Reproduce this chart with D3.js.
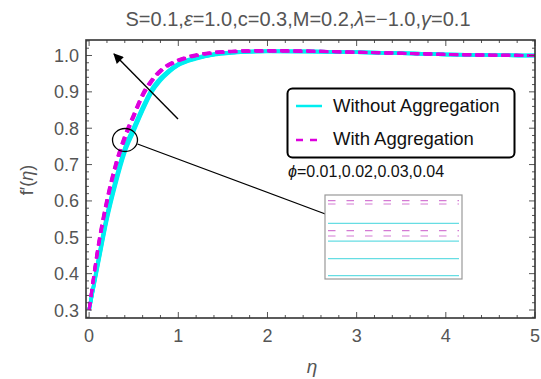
<!DOCTYPE html>
<html>
<head>
<meta charset="utf-8">
<script src="https://cdn.jsdelivr.net/npm/d3@7"></script>
<style>
  body { margin: 0; background: #fff; }
  svg { display: block; font-family: "Liberation Sans", Arial, sans-serif; }
</style>
</head>
<body>
<svg class="chart" width="541" height="379"></svg>
<script>
// eta grid shared by all curves
const eta = [0, 0.1, 0.2, 0.3, 0.4, 0.5, 0.6, 0.7, 0.8, 0.9, 1.0, 1.2, 1.4, 1.6, 1.8, 2.0, 2.5, 3.0, 3.5, 4.0, 4.5, 5.0];

// f'(eta) without aggregation, phi = 0.01 .. 0.04
const noAgg1 = [0.300,0.436,0.562,0.662,0.746,0.803,0.858,0.907,0.938,0.960,0.977,0.994,1.004,1.009,1.011,1.012,1.011,1.009,1.006,1.003,1.001,1.000];
const noAgg2 = [0.300,0.432,0.557,0.657,0.742,0.799,0.855,0.904,0.936,0.959,0.976,0.993,1.003,1.008,1.011,1.012,1.011,1.009,1.006,1.003,1.001,1.000];
const noAgg3 = [0.300,0.428,0.553,0.653,0.738,0.795,0.851,0.901,0.934,0.957,0.974,0.992,1.003,1.008,1.010,1.012,1.011,1.009,1.006,1.003,1.001,1.000];
const noAgg4 = [0.300,0.424,0.548,0.648,0.733,0.791,0.848,0.898,0.931,0.955,0.973,0.991,1.002,1.007,1.010,1.011,1.011,1.009,1.006,1.003,1.001,1.000];

// f'(eta) with aggregation, phi = 0.01 .. 0.04
const agg1 = [0.300,0.476,0.606,0.705,0.780,0.839,0.895,0.933,0.960,0.977,0.988,1.002,1.009,1.012,1.013,1.013,1.012,1.009,1.006,1.003,1.001,1.000];
const agg2 = [0.300,0.473,0.602,0.702,0.777,0.836,0.893,0.931,0.959,0.976,0.987,1.001,1.008,1.011,1.013,1.013,1.012,1.009,1.006,1.003,1.001,1.000];
const agg3 = [0.300,0.469,0.598,0.698,0.773,0.833,0.890,0.929,0.957,0.975,0.986,1.000,1.008,1.011,1.012,1.013,1.012,1.009,1.006,1.003,1.001,1.000];
const agg4 = [0.300,0.466,0.594,0.694,0.769,0.830,0.887,0.927,0.955,0.973,0.985,0.999,1.007,1.010,1.012,1.012,1.011,1.009,1.006,1.003,1.001,1.000];

// inset (magnified view) levels, relative units 0..1
const insetNoAgg = [0.663, 0.452, 0.242, 0.039];
const insetAgg = [0.932, 0.893, 0.575, 0.512];

const xTicks = [0, 1, 2, 3, 4, 5];
const yTicks = [0.3, 0.4, 0.5, 0.6, 0.7, 0.8, 0.9, 1.0];
const legendLabels = ["Without Aggregation", "With Aggregation"];
// title pieces: [text, italic?]
const titleParts = [["S=0.1,", false], ["\u03B5", true], ["=1.0,c=0.3,M=0.2,", false], ["\u03BB", true], ["=\u22121.0,", false], ["\u03B3", true], ["=0.1", false]];
const phiText = "=0.01,0.02,0.03,0.04";

const svg = d3.select("svg.chart");
const frame = {left: 86, right: 535, top: 40, bottom: 318};

let x = d3.scaleLinear().domain([-0.035, 5]).range([frame.left, frame.right]);
let y = d3.scaleLinear().domain([0.278, 1.0426]).range([frame.bottom, frame.top]);

const cyan = "#00eef0", magenta = "#dd00dd", grey = "#555";

// title
let tt = svg.append("text")
    .attr("x", 298).attr("y", 26)
    .attr("text-anchor", "middle")
    .style("font-size", "20px").style("fill", grey);
titleParts.forEach(function(p) {
    tt.append("tspan").style("font-style", p[1] ? "italic" : "normal").text(p[0]);
});

// clip to frame
svg.append("clipPath").attr("id", "clip")
    .append("rect")
    .attr("x", frame.left).attr("y", frame.top)
    .attr("width", frame.right - frame.left).attr("height", frame.bottom - frame.top);

let line = d3.line()
    .x(function(d, i) { return x(eta[i]); })
    .y(function(d) { return y(d); })
    .curve(d3.curveMonotoneX);

let plot = svg.append("g").attr("clip-path", "url(#clip)");

[noAgg1, noAgg2, noAgg3, noAgg4].forEach(function(s) {
    plot.append("path").datum(s)
        .attr("d", line)
        .attr("fill", "none")
        .attr("stroke", cyan)
        .attr("stroke-width", 3.5);
});
[agg1, agg2, agg3, agg4].forEach(function(s) {
    plot.append("path").datum(s)
        .attr("d", line)
        .attr("fill", "none")
        .attr("stroke", magenta)
        .attr("stroke-width", 3)
        .attr("stroke-dasharray", "8,5");
});

// frame ticks (inward, mirrored on top/right)
let g = svg.append("g");
let xMinor = d3.range(0, 5.001, 0.2);
let yMinor = d3.range(0.28, 1.041, 0.02);
xMinor.forEach(function(v) {
    let major = Math.abs(v - Math.round(v)) < 1e-6;
    let len = major ? 6 : 3;
    g.append("line").attr("x1", x(v)).attr("x2", x(v))
        .attr("y1", frame.bottom).attr("y2", frame.bottom - len)
        .attr("stroke", grey).attr("stroke-width", 1);
    g.append("line").attr("x1", x(v)).attr("x2", x(v))
        .attr("y1", frame.top).attr("y2", frame.top + len)
        .attr("stroke", grey).attr("stroke-width", 1);
});
yMinor.forEach(function(v) {
    let major = Math.abs(v * 10 - Math.round(v * 10)) < 1e-6;
    let len = major ? 6 : 3;
    g.append("line").attr("y1", y(v)).attr("y2", y(v))
        .attr("x1", frame.left).attr("x2", frame.left + len)
        .attr("stroke", grey).attr("stroke-width", 1);
    g.append("line").attr("y1", y(v)).attr("y2", y(v))
        .attr("x1", frame.right).attr("x2", frame.right - len)
        .attr("stroke", grey).attr("stroke-width", 1);
});

g.append("rect")
    .attr("x", frame.left).attr("y", frame.top)
    .attr("width", frame.right - frame.left).attr("height", frame.bottom - frame.top)
    .attr("fill", "none").attr("stroke", "#333").attr("stroke-width", 1.6);

// tick labels
svg.selectAll(".xlab").data(xTicks).enter().append("text")
    .attr("class", "xlab")
    .attr("x", function(d) { return x(d); })
    .attr("y", 342)
    .attr("text-anchor", "middle")
    .style("font-size", "18px").style("fill", grey)
    .text(function(d) { return d; });

svg.selectAll(".ylab").data(yTicks).enter().append("text")
    .attr("class", "ylab")
    .attr("x", 79)
    .attr("y", function(d) { return y(d) + 6.5; })
    .attr("text-anchor", "end")
    .style("font-size", "18px").style("fill", grey)
    .text(function(d) { return d.toFixed(1); });

// axis titles
svg.append("text")
    .attr("x", 312).attr("y", 373)
    .attr("text-anchor", "middle")
    .style("font-size", "19px").style("font-style", "italic").style("fill", grey)
    .text("\u03B7");

let yl = svg.append("text")
    .attr("transform", "translate(33,180) rotate(-90)")
    .attr("text-anchor", "middle")
    .style("font-size", "18px").style("fill", grey);
yl.append("tspan").text("f\u2032(");
yl.append("tspan").style("font-style", "italic").text("\u03B7");
yl.append("tspan").text(")");

// arrow
svg.append("defs").append("marker")
    .attr("id", "head").attr("viewBox", "0 0 10 10")
    .attr("refX", 9).attr("refY", 5)
    .attr("markerWidth", 12).attr("markerHeight", 10)
    .attr("markerUnits", "userSpaceOnUse")
    .attr("orient", "auto")
    .append("path").attr("d", "M0,0L10,5L0,10z").attr("fill", "#000");

svg.append("line")
    .attr("x1", 178).attr("y1", 119).attr("x2", 114).attr("y2", 54)
    .attr("stroke", "#000").attr("stroke-width", 1.4)
    .attr("marker-end", "url(#head)");

// circle + pointer line to inset
svg.append("ellipse")
    .attr("cx", 125).attr("cy", 140).attr("rx", 12.5).attr("ry", 11.5)
    .attr("fill", "none").attr("stroke", "#000").attr("stroke-width", 1.3);
svg.append("line")
    .attr("x1", 137.5).attr("y1", 144).attr("x2", 328).attr("y2", 215)
    .attr("stroke", "#000").attr("stroke-width", 1.3);

// legend
let lg = svg.append("g");
lg.append("rect")
    .attr("x", 287.5).attr("y", 88.5).attr("width", 227).attr("height", 69)
    .attr("rx", 5).attr("fill", "#fff").attr("stroke", "#000").attr("stroke-width", 2);
lg.append("line")
    .attr("x1", 296).attr("x2", 322).attr("y1", 106).attr("y2", 106)
    .attr("stroke", cyan).attr("stroke-width", 2.5);
lg.append("line")
    .attr("x1", 296).attr("x2", 322).attr("y1", 140).attr("y2", 140)
    .attr("stroke", magenta).attr("stroke-width", 2.5)
    .attr("stroke-dasharray", "7,7");
lg.selectAll(".lt").data(legendLabels).enter().append("text")
    .attr("class", "lt")
    .attr("x", 333)
    .attr("y", function(d, i) { return 112 + i * 33; })
    .style("font-size", "18.5px").style("fill", "#111")
    .text(function(d) { return d; });

// phi label
let pt = svg.append("text")
    .attr("x", 288).attr("y", 177)
    .style("font-size", "16px").style("fill", "#111");
pt.append("tspan").style("font-style", "italic").text("\u03D5");
pt.append("tspan").text(phiText);

// inset
let inset = {left: 325, right: 462, top: 195, bottom: 279};
let iy = d3.scaleLinear().domain([0, 1]).range([inset.bottom, inset.top]);
let ig = svg.append("g");
ig.append("rect")
    .attr("x", inset.left).attr("y", inset.top)
    .attr("width", inset.right - inset.left).attr("height", inset.bottom - inset.top)
    .attr("fill", "#fff").attr("stroke", "#999").attr("stroke-width", 1.2);
ig.selectAll(".ic").data(insetNoAgg).enter().append("line")
    .attr("x1", inset.left + 3).attr("x2", inset.right - 3)
    .attr("y1", function(d) { return iy(d); }).attr("y2", function(d) { return iy(d); })
    .attr("stroke", "#66dde3").attr("stroke-width", 1.2);
ig.selectAll(".im").data(insetAgg).enter().append("line")
    .attr("x1", inset.left + 3).attr("x2", inset.right - 3)
    .attr("y1", function(d) { return iy(d); }).attr("y2", function(d) { return iy(d); })
    .attr("stroke", "#d47ad4").attr("stroke-width", 1.2)
    .attr("stroke-dasharray", "7.5,11");
</script>
</body>
</html>
